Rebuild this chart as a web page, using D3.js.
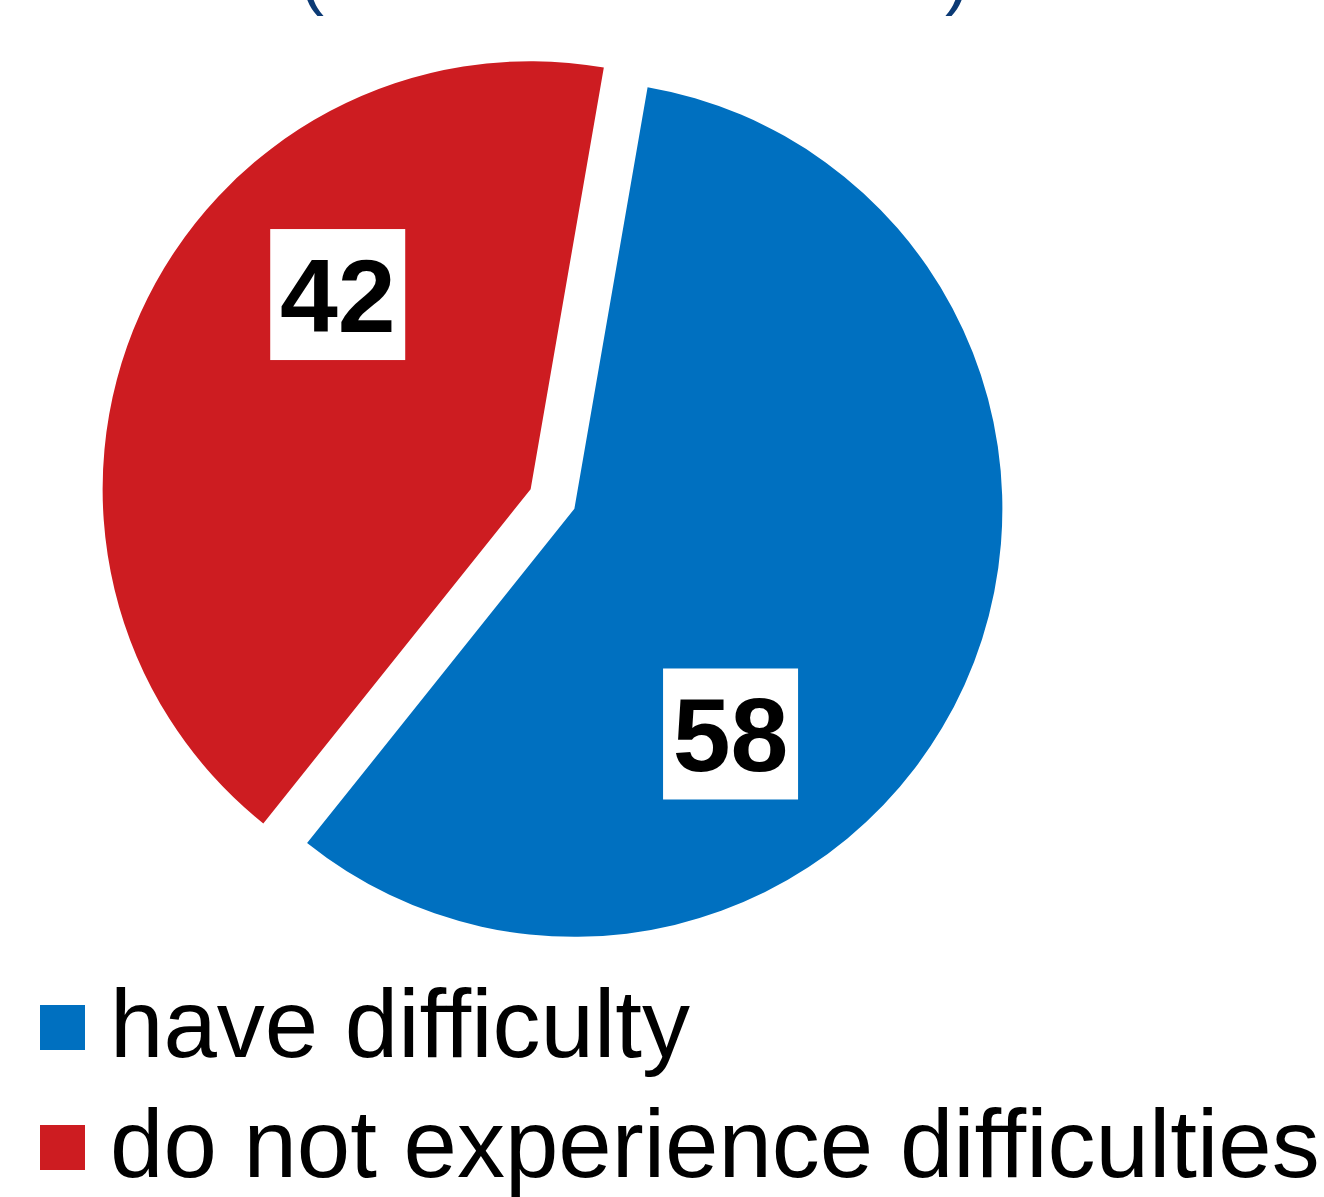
<!DOCTYPE html>
<html>
<head>
<meta charset="utf-8">
<script src="https://cdn.jsdelivr.net/npm/d3@7"></script>
<style>
  html, body { margin: 0; padding: 0; background: #fff; }
  svg { display: block; }
</style>
</head>
<body>
<svg id="chart" width="1324" height="1197"></svg>
<script>
// ---- data ----
const categories = ["have difficulty", "do not experience difficulties"];
const values = [58, 42];
const labels = ["58", "42"];
const colors = ["#0070C0", "#CD1C21"];
const titleParts = ["(", ")"];

// ---- layout config ----
const W = 1324, H = 1197;
const cx = 552.5, cy = 499;
const radius = 428;
const explode = 24;
const startDeg = 9.85;
const labelDist = 274;
const labelShiftDeg = [31, 21];

const svg = d3.select("#chart");
const rad = d => d * Math.PI / 180;

const pie = d3.pie().sort(null).value(d => d)
  .startAngle(rad(startDeg)).endAngle(rad(startDeg) + 2 * Math.PI);
const arcs = pie(values);
const arc = d3.arc().innerRadius(0).outerRadius(radius);

const g = svg.append("g");
arcs.forEach((a, i) => {
  const mid = (a.startAngle + a.endAngle) / 2;
  const ox = cx + explode * Math.sin(mid);
  const oy = cy - explode * Math.cos(mid);
  const sg = g.append("g").attr("transform", `translate(${ox},${oy})`);
  sg.append("path").attr("d", arc(a)).attr("fill", colors[i]);

  const la = mid + rad(labelShiftDeg[i]);
  const lx = labelDist * Math.sin(la);
  const ly = -labelDist * Math.cos(la);
  const bw = 135, bh = 131;
  sg.append("rect")
    .attr("x", lx - bw / 2).attr("y", ly - bh / 2)
    .attr("width", bw).attr("height", bh)
    .attr("fill", "#fff");
  sg.append("text")
    .attr("x", lx).attr("y", ly + 37)
    .attr("text-anchor", "middle")
    .attr("font-family", "Liberation Sans, Arial, sans-serif")
    .attr("font-weight", "bold")
    .attr("font-size", 104)
    .attr("fill", "#000")
    .text(labels[i]);
});

// ---- title (only the bottom of the parentheses is visible) ----
svg.append("text").attr("x", 300).attr("y", 1)
  .attr("font-family", "Liberation Sans, Arial, sans-serif")
  .attr("font-size", 72).attr("fill", "#0B3A75").text(titleParts[0]);
svg.append("text").attr("x", 945).attr("y", 1)
  .attr("font-family", "Liberation Sans, Arial, sans-serif")
  .attr("font-size", 72).attr("fill", "#0B3A75").text(titleParts[1]);

// ---- legend ----
const legend = svg.append("g");
categories.forEach((c, i) => {
  const y0 = 1005 + i * 120;
  legend.append("rect").attr("x", 40).attr("y", y0)
    .attr("width", 45).attr("height", 45).attr("fill", colors[i]);
  legend.append("text").attr("x", 110).attr("y", y0 + 52)
    .attr("font-family", "Liberation Sans, Arial, sans-serif")
    .attr("font-size", 96).attr("fill", "#000").text(c);
});
</script>
</body>
</html>
